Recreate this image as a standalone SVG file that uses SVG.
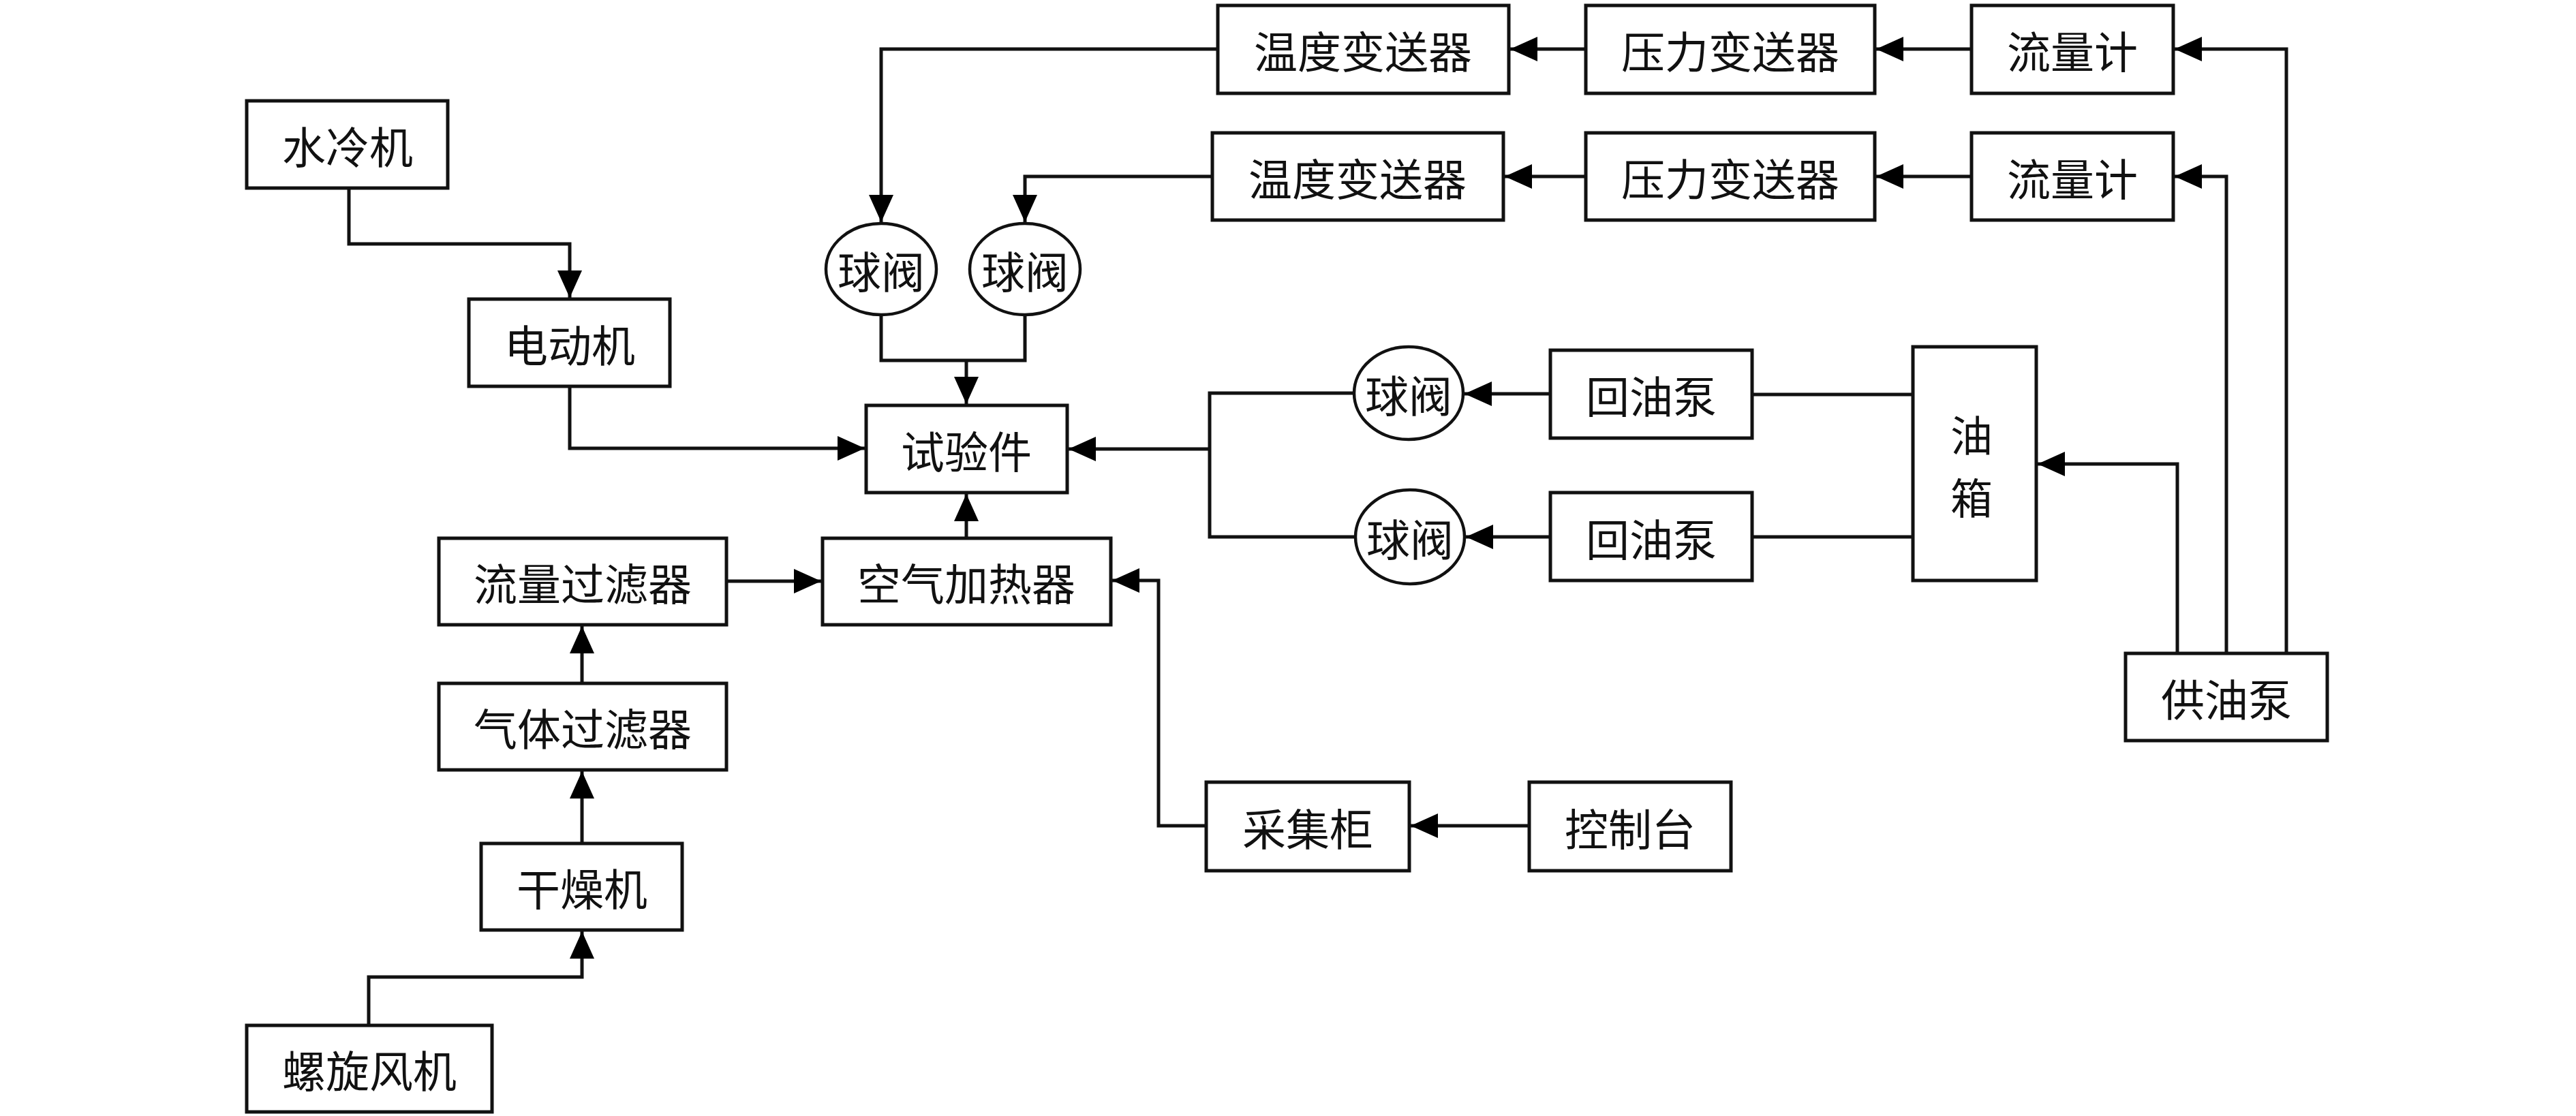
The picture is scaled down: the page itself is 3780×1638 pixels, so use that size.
<svg xmlns="http://www.w3.org/2000/svg" width="3780" height="1638" viewBox="0 0 3780 1638">
<style>
.box{fill:#fff;stroke:#111;stroke-width:5}
.ell{fill:#fff;stroke:#111;stroke-width:4.5}
.t{font-family:"Noto Sans CJK SC","Noto Sans CJK TC",sans-serif;font-size:64px;fill:#111;text-anchor:middle;dominant-baseline:central}
.c{fill:none;stroke:#111;stroke-width:5}
.a{marker-end:url(#ah)}
</style>
<defs>
<marker id="ah" markerUnits="userSpaceOnUse" markerWidth="40" markerHeight="36" refX="40" refY="18" orient="auto">
<path d="M0,0 L40,18 L0,36 Z" fill="#000"/>
</marker>
</defs>
<rect width="3780" height="1638" fill="#fff"/>
<g id="connectors">
<path class="c a" d="M2327,72 H2216"/>
<path class="c a" d="M2893,72 H2753"/>
<path class="c a" d="M3355,959 V72 H3191"/>
<path class="c a" d="M2327,259 H2208"/>
<path class="c a" d="M2893,259 H2753"/>
<path class="c a" d="M3267,959 V259 H3191"/>
<path class="c a" d="M1787,72 H1293 V326"/>
<path class="c a" d="M1779,259 H1504 V326"/>
<path class="c" d="M1293,462 V529 H1504 V462"/>
<path class="c a" d="M1418,529 V593"/>
<path class="c a" d="M512,276 V358 H836 V437"/>
<path class="c a" d="M836,567 V658 H1269"/>
<path class="c" d="M1987,577 H1775 V788 H1989"/>
<path class="c a" d="M1775,659 H1568"/>
<path class="c a" d="M2275,578 H2149"/>
<path class="c a" d="M2275,788 H2151"/>
<path class="c" d="M2571,579 H2807"/>
<path class="c" d="M2571,788 H2807"/>
<path class="c a" d="M3195,959 V681 H2990"/>
<path class="c a" d="M1418,790 V725"/>
<path class="c a" d="M1066,853 H1205"/>
<path class="c a" d="M1770,1212 H1700 V852 H1632"/>
<path class="c a" d="M2244,1212 H2070"/>
<path class="c a" d="M854,1003 V919"/>
<path class="c a" d="M854,1238 V1132"/>
<path class="c a" d="M541,1505 V1434 H854 V1367"/>
</g>
<g id="n-wendu1"><rect class="box" x="1787" y="8" width="427" height="129"/><text class="t" x="2000" y="72">温度变送器</text></g>
<g id="n-yali1"><rect class="box" x="2327" y="8" width="424" height="129"/><text class="t" x="2539" y="72">压力变送器</text></g>
<g id="n-liuliangji1"><rect class="box" x="2893" y="8" width="296" height="129"/><text class="t" x="3041" y="72">流量计</text></g>
<g id="n-wendu2"><rect class="box" x="1779" y="195" width="427" height="128"/><text class="t" x="1992" y="259">温度变送器</text></g>
<g id="n-yali2"><rect class="box" x="2327" y="195" width="424" height="128"/><text class="t" x="2539" y="259">压力变送器</text></g>
<g id="n-liuliangji2"><rect class="box" x="2893" y="195" width="296" height="128"/><text class="t" x="3041" y="259">流量计</text></g>
<g id="n-qiufa1"><ellipse class="ell" cx="1293" cy="395" rx="81" ry="67"/><text class="t" x="1293" y="395">球阀</text></g>
<g id="n-qiufa2"><ellipse class="ell" cx="1504" cy="395" rx="81" ry="67"/><text class="t" x="1504" y="395">球阀</text></g>
<g id="n-shuilengji"><rect class="box" x="362" y="148" width="295" height="128"/><text class="t" x="510" y="212">水冷机</text></g>
<g id="n-diandongji"><rect class="box" x="688" y="439" width="295" height="128"/><text class="t" x="836" y="503">电动机</text></g>
<g id="n-shiyanjian"><rect class="box" x="1271" y="595" width="295" height="128"/><text class="t" x="1418" y="659">试验件</text></g>
<g id="n-qiufa3"><ellipse class="ell" cx="2067" cy="577" rx="80" ry="68"/><text class="t" x="2067" y="577">球阀</text></g>
<g id="n-qiufa4"><ellipse class="ell" cx="2069" cy="788" rx="80" ry="69"/><text class="t" x="2069" y="788">球阀</text></g>
<g id="n-huiyoubeng1"><rect class="box" x="2275" y="514" width="296" height="129"/><text class="t" x="2423" y="578">回油泵</text></g>
<g id="n-huiyoubeng2"><rect class="box" x="2275" y="723" width="296" height="129"/><text class="t" x="2423" y="788">回油泵</text></g>
<g id="n-youxiang"><rect class="box" x="2807" y="509" width="181" height="343"/><text class="t" x="2893" y="636" style="font-size:62px">油<tspan x="2893" dy="92">箱</tspan></text></g>
<g id="n-gongyoubeng"><rect class="box" x="3119" y="959" width="296" height="128"/><text class="t" x="3267" y="1023">供油泵</text></g>
<g id="n-liuliangguolvqi"><rect class="box" x="644" y="790" width="422" height="127"/><text class="t" x="855" y="853">流量过滤器</text></g>
<g id="n-kongqijiareqi"><rect class="box" x="1207" y="790" width="423" height="127"/><text class="t" x="1418" y="853">空气加热器</text></g>
<g id="n-qitiguolvqi"><rect class="box" x="644" y="1003" width="422" height="127"/><text class="t" x="855" y="1066">气体过滤器</text></g>
<g id="n-ganzaoji"><rect class="box" x="706" y="1238" width="295" height="127"/><text class="t" x="854" y="1301">干燥机</text></g>
<g id="n-luoxuanfengji"><rect class="box" x="362" y="1505" width="360" height="127"/><text class="t" x="542" y="1568">螺旋风机</text></g>
<g id="n-caijigui"><rect class="box" x="1770" y="1148" width="298" height="130"/><text class="t" x="1919" y="1213">采集柜</text></g>
<g id="n-kongzhitai"><rect class="box" x="2244" y="1148" width="296" height="130"/><text class="t" x="2392" y="1213">控制台</text></g>
</svg>
